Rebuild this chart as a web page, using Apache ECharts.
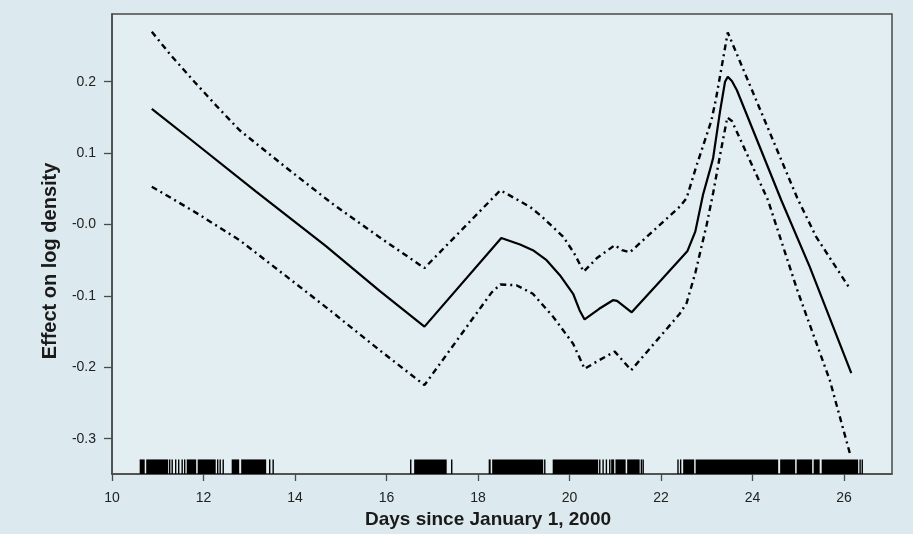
<!DOCTYPE html>
<html>
<head>
<meta charset="utf-8">
<script src="https://cdn.jsdelivr.net/npm/echarts@6/dist/echarts.min.js"></script>
<style>
html,body{margin:0;padding:0;background:#dce9ef;}
#chart{width:913px;height:534px;}
</style>
</head>
<body>
<div id="chart"></div>
<script>
// ---- data ----
const xTicks = [10, 12, 14, 16, 18, 20, 22, 24, 26];
const xTickLabels = ['10', '12', '14', '16', '18', '20', '22', '24', '26'];
const yTicks = [-0.3, -0.2, -0.1, 0, 0.1, 0.2];
const yTickLabels = ['-0.3', '-0.2', '-0.1', '-0.0', '0.1', '0.2'];

const fitCurve = [
  [10.87, 0.162], [11.74, 0.118], [13.15, 0.046], [14.67, -0.030], [15.85, -0.093],
  [16.83, -0.143], [18.51, -0.019], [18.92, -0.028], [19.2, -0.036], [19.5, -0.050],
  [19.79, -0.071], [20.08, -0.097], [20.22, -0.120], [20.33, -0.133], [20.65, -0.118],
  [20.95, -0.106], [21.04, -0.107], [21.36, -0.123], [22.0, -0.078], [22.58, -0.037],
  [22.75, -0.010], [22.92, 0.042], [23.06, 0.074], [23.14, 0.093], [23.29, 0.158],
  [23.40, 0.200], [23.46, 0.207], [23.55, 0.201], [23.66, 0.188], [24.63, 0.034],
  [25.25, -0.059], [26.16, -0.208]
];
const upperBand = [
  [10.87, 0.270], [11.3, 0.236], [11.8, 0.200], [12.3, 0.165], [12.79, 0.132],
  [13.8, 0.080], [14.8, 0.030], [15.85, -0.018], [16.83, -0.061], [18.49, 0.048],
  [19.13, 0.025], [19.38, 0.012], [19.86, -0.017], [20.1, -0.040], [20.31, -0.066],
  [20.6, -0.047], [20.99, -0.029], [21.15, -0.036], [21.32, -0.039], [21.9, -0.005],
  [22.41, 0.025], [22.56, 0.037], [22.77, 0.081], [23.1, 0.145], [23.2, 0.175],
  [23.46, 0.269], [24.98, 0.037], [25.39, -0.017], [26.14, -0.091]
];
const lowerBand = [
  [10.87, 0.053], [11.8, 0.018], [12.79, -0.022], [13.8, -0.072], [14.8, -0.122],
  [15.85, -0.176], [16.83, -0.225], [18.3, -0.095], [18.49, -0.084], [18.84, -0.085],
  [19.2, -0.097], [19.64, -0.129], [20.08, -0.167], [20.33, -0.202], [20.65, -0.190],
  [20.99, -0.178], [21.35, -0.204], [21.9, -0.163], [22.41, -0.125], [22.56, -0.110],
  [22.75, -0.068], [23.0, 0.000], [23.14, 0.044], [23.3, 0.100], [23.45, 0.150],
  [23.55, 0.145], [24.34, 0.034], [24.98, -0.092], [25.69, -0.218], [26.14, -0.323]
];
// rug: solid dark stretches [start, end] and isolated single ticks
const rugBlocks = [
  [10.605, 10.715], [10.748, 11.228], [11.633, 11.840], [11.873, 12.267],
  [12.616, 12.780], [12.824, 13.370], [16.605, 17.316], [18.234, 18.277],
  [18.310, 19.425], [19.633, 20.627], [20.911, 20.977], [21.005, 21.228],
  [21.261, 21.534], [22.485, 22.726], [22.758, 24.562], [24.605, 24.933],
  [24.966, 25.305], [25.338, 25.469], [25.513, 26.310]
];
const rugTicks = [
  11.261, 11.316, 11.392, 11.458, 11.534, 11.589, 12.310, 12.365, 12.431,
  13.447, 13.523, 16.530, 17.426, 19.460, 20.662, 20.735, 20.807, 20.880,
  21.572, 21.611, 22.372, 22.430, 26.353, 26.400
];

const xMin = 10, xMax = 27.05;
const yMin = -0.3494, yMax = 0.2948;
const rugTop = -0.329;

const chart = echarts.init(document.getElementById('chart'), null, {renderer: 'canvas'});
const FONT = '"Liberation Sans", Arial, Helvetica, sans-serif';
const axisColor = '#4a4a4a';
const dashDot = [6, 4, 2, 4];

function rugBlockItem(params, api) {
  const p0 = api.coord([api.value(0), rugTop]);
  const p1 = api.coord([api.value(1), yMin]);
  return {type: 'rect', shape: {x: p0[0], y: p0[1], width: Math.max(p1[0] - p0[0], 1), height: p1[1] - p0[1]},
          style: {fill: '#000'}};
}
function rugTickItem(params, api) {
  const p0 = api.coord([api.value(0), rugTop]);
  const p1 = api.coord([api.value(0), yMin]);
  return {type: 'rect', shape: {x: p0[0] - 0.7, y: p0[1], width: 1.4, height: p1[1] - p0[1]},
          style: {fill: '#000'}};
}

chart.setOption({
  animation: false,
  backgroundColor: '#dce9ef',
  grid: {left: 112, top: 14, right: 21, bottom: 60, show: true,
         backgroundColor: '#e2eef2', borderColor: axisColor, borderWidth: 1.5},
  xAxis: {
    type: 'value', min: xMin, max: xMax,
    name: 'Days since January 1, 2000', nameLocation: 'middle', nameGap: 35,
    nameTextStyle: {fontFamily: FONT, fontSize: 19, fontWeight: 'bold', color: '#1a1a1a', padding: [0, 28, 0, 0]},
    axisLine: {show: true, onZero: false, lineStyle: {color: axisColor, width: 1.5}},
    axisTick: {show: true, length: 7, customValues: xTicks, lineStyle: {color: axisColor, width: 1.3}},
    axisLabel: {show: true, customValues: xTicks, margin: 17, fontFamily: FONT, fontSize: 14, color: '#222',
                formatter: v => xTickLabels[xTicks.indexOf(v)] ?? ''},
    splitLine: {show: false}
  },
  yAxis: {
    type: 'value', min: yMin, max: yMax,
    name: 'Effect on log density', nameLocation: 'middle', nameGap: 46,
    nameTextStyle: {fontFamily: FONT, fontSize: 20, fontWeight: 'bold', color: '#1a1a1a', padding: [0, 34, 0, 0]},
    axisLine: {show: true, onZero: false, lineStyle: {color: axisColor, width: 1.5}},
    axisTick: {show: true, length: 8, customValues: yTicks, lineStyle: {color: axisColor, width: 1.3}},
    axisLabel: {show: true, customValues: yTicks, margin: 16, fontFamily: FONT, fontSize: 14, color: '#222',
                formatter: v => {
                  let i = yTicks.findIndex(t => Math.abs(t - v) < 1e-9);
                  return i >= 0 ? yTickLabels[i] : '';
                }},
    splitLine: {show: false}
  },
  series: [
    {type: 'line', data: upperBand, showSymbol: false, symbol: 'none', silent: true,
     lineStyle: {color: '#000', width: 2.4, type: dashDot}},
    {type: 'line', data: lowerBand, showSymbol: false, symbol: 'none', silent: true,
     lineStyle: {color: '#000', width: 2.4, type: dashDot}},
    {type: 'line', data: fitCurve, showSymbol: false, symbol: 'none', silent: true,
     lineStyle: {color: '#000', width: 2.2, type: 'solid'}},
    {type: 'custom', renderItem: rugBlockItem, data: rugBlocks, encode: {x: [0, 1]}, silent: true},
    {type: 'custom', renderItem: rugTickItem, data: rugTicks.map(v => [v]), encode: {x: 0}, silent: true}
  ]
});
</script>
</body>
</html>
